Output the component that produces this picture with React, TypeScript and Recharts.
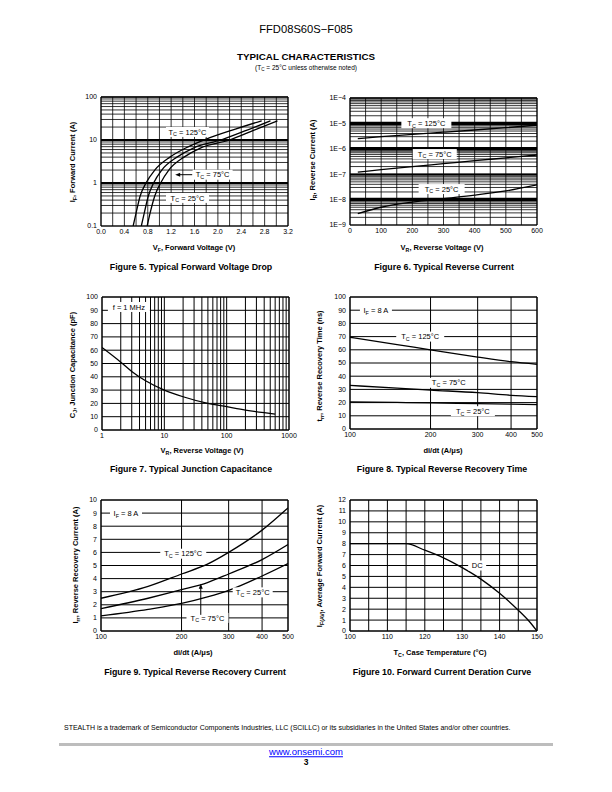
import React from 'react';
import { LineChart, Line, XAxis, YAxis, CartesianGrid, ReferenceLine, ReferenceDot } from 'recharts';

const FONT = '"Liberation Sans", Arial, Helvetica, sans-serif';

// Figure 5: forward voltage (V) vs forward current (A)
const vf125 = [0.55, 0.6, 0.67, 0.77, 0.92, 1.18, 1.45, 1.8, 2.3, 2.75];
const if125 = [0.1, 0.2, 0.5, 1, 2, 4, 6.5, 10.5, 18, 28];
const vf75 = [0.69, 0.74, 0.81, 0.9, 1.04, 1.3, 1.58, 2.05, 2.5, 2.9];
const if75 = [0.1, 0.2, 0.5, 1, 2, 4, 6.5, 10, 17, 28];
const vf25 = [0.79, 0.84, 0.92, 1.02, 1.16, 1.42, 1.7, 2.2, 2.62, 3.02];
const if25 = [0.1, 0.2, 0.5, 1, 2, 4, 6.5, 10, 17, 28];

// Figure 6: reverse voltage (V) vs reverse current (A)
const vr6 = [25, 100, 200, 300, 400, 500, 600];
const ir125 = [2.5e-6, 3e-6, 3.7e-6, 4.5e-6, 5.5e-6, 6.8e-6, 8.5e-6];
const ir75 = [1.2e-7, 1.5e-7, 2e-7, 2.6e-7, 3.4e-7, 4.4e-7, 5.7e-7];
const ir25 = [2.8e-9, 5e-9, 8e-9, 1.1e-8, 1.5e-8, 2.2e-8, 3.8e-8];

// Figure 7: reverse voltage (V) vs junction capacitance (pF)
const vr7 = [1, 2, 3, 5, 10, 20, 50, 100, 200, 400, 600];
const cj = [62, 51, 44, 37, 30, 25, 20, 17.5, 15, 13, 12];

// Figure 8: di/dt vs trr (ns)
const didt8 = [100, 150, 200, 300, 400, 500];
const trr125 = [69.5, 64, 60, 54.5, 51, 49];
const trr75 = [33, 31, 29.5, 27.5, 25.5, 24.5];
const trr25 = [20.5, 20.1, 19.8, 19.2, 18.8, 18.5];

// Figure 9: di/dt vs Irr (A)
const didt9 = [100, 150, 200, 250, 300, 400, 500];
const irr125 = [2.5, 3.4, 4.35, 5.1, 6.0, 7.7, 9.4];
const irr75 = [1.7, 2.5, 3.15, 3.7, 4.35, 5.45, 6.6];
const irr25 = [1.15, 1.65, 2.1, 2.6, 3.1, 4.2, 5.15];

// Figure 10: case temperature vs average forward current
const tc10 = [100, 105, 110, 115, 120, 125, 130, 135, 140, 145, 148, 150];
const ifav = [8, 8, 8, 8, 7.4, 6.7, 5.8, 4.75, 3.45, 1.9, 0.85, 0];

// ticks / grid
const x5Ticks = [0, 0.2, 0.4, 0.6, 0.8, 1, 1.2, 1.4, 1.6, 1.8, 2, 2.2, 2.4, 2.6, 2.8, 3, 3.2];
const x6Ticks = [0, 50, 100, 150, 200, 250, 300, 350, 400, 450, 500, 550, 600];
const y6Labels = ['1E\u22129', '1E\u22128', '1E\u22127', '1E\u22126', '1E\u22125', '1E\u22124'];
const y5Labels = ['0.1', '1', '10', '100'];
const x7Labels = ['1', '10', '100', '1000'];
const lin10 = [0, 10, 20, 30, 40, 50, 60, 70, 80, 90, 100];
const didtTicks = [100, 200, 300, 400, 500];
const y9Ticks = [0, 1, 2, 3, 4, 5, 6, 7, 8, 9, 10];
const x10Ticks = [100, 105, 110, 115, 120, 125, 130, 135, 140, 145, 150];
const y10Ticks = [0, 1, 2, 3, 4, 5, 6, 7, 8, 9, 10, 11, 12];

const logGrid = (from: number, to: number) => {
  const out: number[] = [];
  for (let e = from; e < to; e++) for (let k = 1; k < 10; k++) out.push(k * Math.pow(10, e));
  out.push(Math.pow(10, to));
  return out;
};
const decadeLabel = (from: number, labels: string[]) => (v: number) => {
  const e = Math.log10(v);
  const r = Math.round(e);
  return Math.abs(e - r) < 1e-6 ? labels[r - from] ?? '' : '';
};

const pts = (xs: number[], ys: number[]) => xs.map((x, i) => ({ x, y: ys[i] }));

type Box = { x: number; y: number; w: number; h: number };
const MT = 6, MR = 14, YW = 30, XH = 16;
const B5: Box = { x: 101, y: 97, w: 187, h: 129 };
const B6: Box = { x: 350, y: 98, w: 187, h: 127 };
const B7: Box = { x: 102, y: 297, w: 187, h: 133 };
const B8: Box = { x: 350, y: 297, w: 187, h: 132 };
const B9: Box = { x: 101, y: 500, w: 187, h: 131 };
const B10: Box = { x: 350, y: 500, w: 187, h: 131 };

const place = (b: Box): React.CSSProperties => ({ position: 'absolute', left: b.x - YW, top: b.y - MT });
const cw = (b: Box) => YW + b.w + MR;
const ch = (b: Box) => MT + b.h + XH;
const margin = { top: MT, right: MR, left: 0, bottom: 0 };

const tick = { fontSize: 7, fill: '#000', fontFamily: FONT };
const axisCommon = { tickLine: false, tickSize: 0, interval: 0 as const, axisLine: { stroke: '#000' }, tick, allowDataOverflow: true };

const tag = (pre: string, sub: string, post: string, w: number, fs = 7.5) => (p: any) => (
  <g>
    <rect x={p.cx - w / 2} y={p.cy - 5} width={w} height={10} fill="#fff" />
    <text x={p.cx} y={p.cy} dy={2.6} textAnchor="middle" fontSize={fs} fontFamily={FONT} fill="#000">
      {pre}
      {sub ? <tspan fontSize={fs * 0.72} dy={1.8}>{sub}</tspan> : null}
      <tspan dy={sub ? -1.8 : 0}>{post}</tspan>
    </text>
  </g>
);

const arrowLeft = (len: number) => (p: any) => (
  <g>
    <line x1={p.cx + 3} y1={p.cy} x2={p.cx + len} y2={p.cy} stroke="#000" strokeWidth={1} />
    <polygon points={`${p.cx},${p.cy} ${p.cx + 5},${p.cy - 2} ${p.cx + 5},${p.cy + 2}`} fill="#000" />
  </g>
);
const arrowUp = (len: number) => (p: any) => (
  <g>
    <line x1={p.cx} y1={p.cy + 3} x2={p.cx} y2={p.cy + len} stroke="#000" strokeWidth={1} />
    <polygon points={`${p.cx},${p.cy} ${p.cx - 2},${p.cy + 5} ${p.cx + 2},${p.cy + 5}`} fill="#000" />
  </g>
);

const curve = (data: { x: number; y: number }[], k: string) => (
  <Line key={k} data={data} dataKey="y" type="monotone" stroke="#000" strokeWidth={1.3} dot={false} isAnimationActive={false} />
);

const T = (p: { x: number; y: number; size: number; bold?: boolean; children: React.ReactNode; color?: string; rot?: boolean; under?: boolean }) => (
  <div
    style={{
      position: 'absolute',
      left: p.x,
      top: p.y,
      transform: `translate(-50%, -50%)${p.rot ? ' rotate(-90deg)' : ''}`,
      whiteSpace: 'nowrap',
      lineHeight: 1,
      fontFamily: FONT,
      fontSize: p.size,
      fontWeight: p.bold ? 'bold' : 'normal',
      color: p.color ?? '#000',
      textDecoration: p.under ? 'underline' : 'none',
    }}
  >
    {p.children}
  </div>
);
const Sub = ({ children }: { children: React.ReactNode }) => (
  <sub style={{ fontSize: '70%', verticalAlign: '-0.3em', lineHeight: 0 }}>{children}</sub>
);

export default function App() {
  return (
    <div style={{ position: 'absolute', left: 0, top: 0, width: 612, height: 792, background: '#fff', overflow: 'hidden' }}>
      <T x={306} y={30} size={11.2}>FFD08S60S{'\u2212'}F085</T>
      <T x={306} y={57} size={9.8} bold>TYPICAL CHARACTERISTICS</T>
      <T x={306} y={68} size={6.5}>(T<Sub>C</Sub> = 25°C unless otherwise noted)</T>

      {/* Figure 5 */}
      <div style={place(B5)}>
        <LineChart width={cw(B5)} height={ch(B5)} margin={margin}>
          <CartesianGrid stroke="#000" strokeWidth={0.8} />
          <XAxis dataKey="x" type="number" domain={[0, 3.2]} ticks={x5Ticks} height={XH} tickMargin={3}
            tickFormatter={(v: number) => (Math.round(v * 10) % 4 === 0 ? v.toFixed(1) : '')} {...axisCommon} />
          <YAxis type="number" scale="log" domain={[0.1, 100]} ticks={logGrid(-1, 2)} width={YW} tickMargin={4}
            tickFormatter={decadeLabel(-1, y5Labels)} {...axisCommon} />
          <ReferenceLine y={1} stroke="#000" strokeWidth={2} />
          <ReferenceLine y={10} stroke="#000" strokeWidth={2} />
          <ReferenceLine y={100} stroke="#000" strokeWidth={1.5} />
          <ReferenceLine x={3.2} stroke="#000" strokeWidth={1} />
          {curve(pts(vf125, if125), 'a')}
          {curve(pts(vf75, if75), 'b')}
          {curve(pts(vf25, if25), 'c')}
          <ReferenceDot x={1.48} y={15.4} r={0} shape={tag('T', 'C', ' = 125°C', 43)} />
          <ReferenceDot x={1.91} y={1.56} r={0} shape={tag('T', 'C', ' = 75°C', 40)} />
          <ReferenceDot x={1.27} y={1.56} r={0} shape={arrowLeft(17)} />
          <ReferenceDot x={1.48} y={0.45} r={0} shape={tag('T', 'C', ' = 25°C', 43)} />
        </LineChart>
      </div>
      <T x={194} y={248} size={7.5} bold>V<Sub>F</Sub>, Forward Voltage (V)</T>
      <T x={73} y={162} size={7.5} bold rot>I<Sub>F</Sub>, Forward Current (A)</T>
      <T x={191} y={267} size={8.8} bold>Figure 5. Typical Forward Voltage Drop</T>

      {/* Figure 6 */}
      <div style={place(B6)}>
        <LineChart width={cw(B6)} height={ch(B6)} margin={margin}>
          <CartesianGrid stroke="#000" strokeWidth={0.8} />
          <XAxis dataKey="x" type="number" domain={[0, 600]} ticks={x6Ticks} height={XH} tickMargin={3}
            tickFormatter={(v: number) => (v % 100 === 0 ? String(v) : '')} {...axisCommon} />
          <YAxis type="number" scale="log" domain={[1e-9, 1e-4]} ticks={logGrid(-9, -4)} width={YW} tickMargin={4}
            tickFormatter={decadeLabel(-9, y6Labels)} {...axisCommon} />
          <ReferenceLine y={1e-5} stroke="#000" strokeWidth={3.5} />
          <ReferenceLine y={1e-6} stroke="#000" strokeWidth={3.5} />
          <ReferenceLine y={1e-7} stroke="#000" strokeWidth={1.5} />
          <ReferenceLine y={1e-8} stroke="#000" strokeWidth={3.5} />
          <ReferenceLine y={1e-4} stroke="#000" strokeWidth={1.5} />
          <ReferenceLine x={600} stroke="#000" strokeWidth={1} />
          {curve(pts(vr6, ir125), 'a')}
          {curve(pts(vr6, ir75), 'b')}
          {curve(pts(vr6, ir25), 'c')}
          <ReferenceDot x={245} y={1.02e-5} r={0} shape={tag('T', 'C', ' = 125°C', 50)} />
          <ReferenceDot x={272} y={6.2e-7} r={0} shape={tag('T', 'C', ' = 75°C', 44)} />
          <ReferenceDot x={294} y={2.6e-8} r={0} shape={tag('T', 'C', ' = 25°C', 46)} />
        </LineChart>
      </div>
      <T x={442} y={248} size={7.5} bold>V<Sub>R</Sub>, Reverse Voltage (V)</T>
      <T x={313} y={160} size={7.5} bold rot>I<Sub>R</Sub>, Reverse Current (A)</T>
      <T x={444} y={267} size={8.8} bold>Figure 6. Typical Reverse Current</T>

      {/* Figure 7 */}
      <div style={place(B7)}>
        <LineChart width={cw(B7)} height={ch(B7)} margin={margin}>
          <CartesianGrid stroke="#000" strokeWidth={1} />
          <XAxis dataKey="x" type="number" scale="log" domain={[1, 1000]} ticks={logGrid(0, 3)} height={XH} tickMargin={3}
            tickFormatter={decadeLabel(0, x7Labels)} {...axisCommon} />
          <YAxis type="number" domain={[0, 100]} ticks={lin10} width={YW} tickMargin={4} {...axisCommon} />
          <ReferenceLine x={1000} stroke="#000" strokeWidth={1} />
          <ReferenceLine y={100} stroke="#000" strokeWidth={1} />
          {curve(pts(vr7, cj), 'a')}
          <ReferenceDot x={2.7} y={92.5} r={0} shape={tag('f = 1 MHz', '', '', 42)} />
        </LineChart>
      </div>
      <T x={202} y={451} size={7.5} bold>V<Sub>R</Sub>, Reverse Voltage (V)</T>
      <T x={73} y={365} size={7.5} bold rot>C<Sub>J</Sub>, Junction Capacitance (pF)</T>
      <T x={191} y={469} size={8.8} bold>Figure 7. Typical Junction Capacitance</T>

      {/* Figure 8 */}
      <div style={place(B8)}>
        <LineChart width={cw(B8)} height={ch(B8)} margin={margin}>
          <CartesianGrid stroke="#000" strokeWidth={1} />
          <XAxis dataKey="x" type="number" scale="log" domain={[100, 500]} ticks={didtTicks} height={XH} tickMargin={3} {...axisCommon} />
          <YAxis type="number" domain={[0, 100]} ticks={lin10} width={YW} tickMargin={4} {...axisCommon} />
          <ReferenceLine x={500} stroke="#000" strokeWidth={1} />
          <ReferenceLine y={100} stroke="#000" strokeWidth={1} />
          {curve(pts(didt8, trr125), 'a')}
          {curve(pts(didt8, trr75), 'b')}
          {curve(pts(didt8, trr25), 'c')}
          <ReferenceDot x={125} y={90} r={0} shape={tag('I', 'F', ' = 8 A', 32)} />
          <ReferenceDot x={183} y={70} r={0} shape={tag('T', 'C', ' = 125°C', 48)} />
          <ReferenceDot x={234} y={35} r={0} shape={tag('T', 'C', ' = 75°C', 44)} />
          <ReferenceDot x={288} y={13.5} r={0} shape={tag('T', 'C', ' = 25°C', 44)} />
        </LineChart>
      </div>
      <T x={443} y={451} size={7.5} bold>di/dt (A/μs)</T>
      <T x={320} y={366} size={7.5} bold rot>t<Sub>rr</Sub>, Reverse Recovery Time (ns)</T>
      <T x={442} y={469} size={8.8} bold>Figure 8. Typical Reverse Recovery Time</T>

      {/* Figure 9 */}
      <div style={place(B9)}>
        <LineChart width={cw(B9)} height={ch(B9)} margin={margin}>
          <CartesianGrid stroke="#000" strokeWidth={1} />
          <XAxis dataKey="x" type="number" scale="log" domain={[100, 500]} ticks={didtTicks} height={XH} tickMargin={3} {...axisCommon} />
          <YAxis type="number" domain={[0, 10]} ticks={y9Ticks} width={YW} tickMargin={4} {...axisCommon} />
          <ReferenceLine x={500} stroke="#000" strokeWidth={1} />
          <ReferenceLine y={10} stroke="#000" strokeWidth={1} />
          {curve(pts(didt9, irr125), 'a')}
          {curve(pts(didt9, irr75), 'b')}
          {curve(pts(didt9, irr25), 'c')}
          <ReferenceDot x={124} y={9} r={0} shape={tag('I', 'F', ' = 8 A', 32)} />
          <ReferenceDot x={203} y={5.9} r={0} shape={tag('T', 'C', ' = 125°C', 46)} />
          <ReferenceDot x={369} y={2.95} r={0} shape={tag('T', 'C', ' = 25°C', 40)} />
          <ReferenceDot x={250} y={1} r={0} shape={tag('T', 'C', ' = 75°C', 42)} />
          <ReferenceDot x={236} y={3.6} r={0} shape={arrowUp(31)} />
        </LineChart>
      </div>
      <T x={193} y={653} size={7.5} bold>di/dt (A/μs)</T>
      <T x={76} y={565} size={7.5} bold rot>I<Sub>rr</Sub>, Reverse Recovery Current (A)</T>
      <T x={195} y={672} size={8.8} bold>Figure 9. Typical Reverse Recovery Current</T>

      {/* Figure 10 */}
      <div style={place(B10)}>
        <LineChart width={cw(B10)} height={ch(B10)} margin={margin}>
          <CartesianGrid stroke="#000" strokeWidth={1} />
          <XAxis dataKey="x" type="number" domain={[100, 150]} ticks={x10Ticks} height={XH} tickMargin={3}
            tickFormatter={(v: number) => (v % 10 === 0 ? String(v) : '')} {...axisCommon} />
          <YAxis type="number" domain={[0, 12]} ticks={y10Ticks} width={YW} tickMargin={4} {...axisCommon} />
          <ReferenceLine x={150} stroke="#000" strokeWidth={1} />
          <ReferenceLine y={12} stroke="#000" strokeWidth={1} />
          {curve(pts(tc10, ifav), 'a')}
          <ReferenceDot x={134} y={6} r={0} shape={tag('DC', '', '', 18)} />
        </LineChart>
      </div>
      <T x={440} y={653} size={7.5} bold>T<Sub>C</Sub>, Case Temperature (°C)</T>
      <T x={320} y={566} size={7.5} bold rot>I<Sub>F(AV)</Sub>, Average Forward Current (A)</T>
      <T x={442} y={672} size={8.8} bold>Figure 10. Forward Current Deration Curve</T>

      <div style={{ position: 'absolute', left: 64, top: 727, transform: 'translateY(-50%)', fontFamily: FONT, fontSize: 7, lineHeight: 1, whiteSpace: 'nowrap' }}>
        STEALTH is a trademark of Semiconductor Components Industries, LLC (SCILLC) or its subsidiaries in the United States and/or other countries.
      </div>
      <div style={{ position: 'absolute', left: 59, top: 743, width: 494, height: 2.5, background: '#bdbdbd' }} />
      <T x={306} y={752} size={9.5} color="#0000ff" under>www.onsemi.com</T>
      <T x={306} y={762} size={8.5} bold>3</T>
    </div>
  );
}
